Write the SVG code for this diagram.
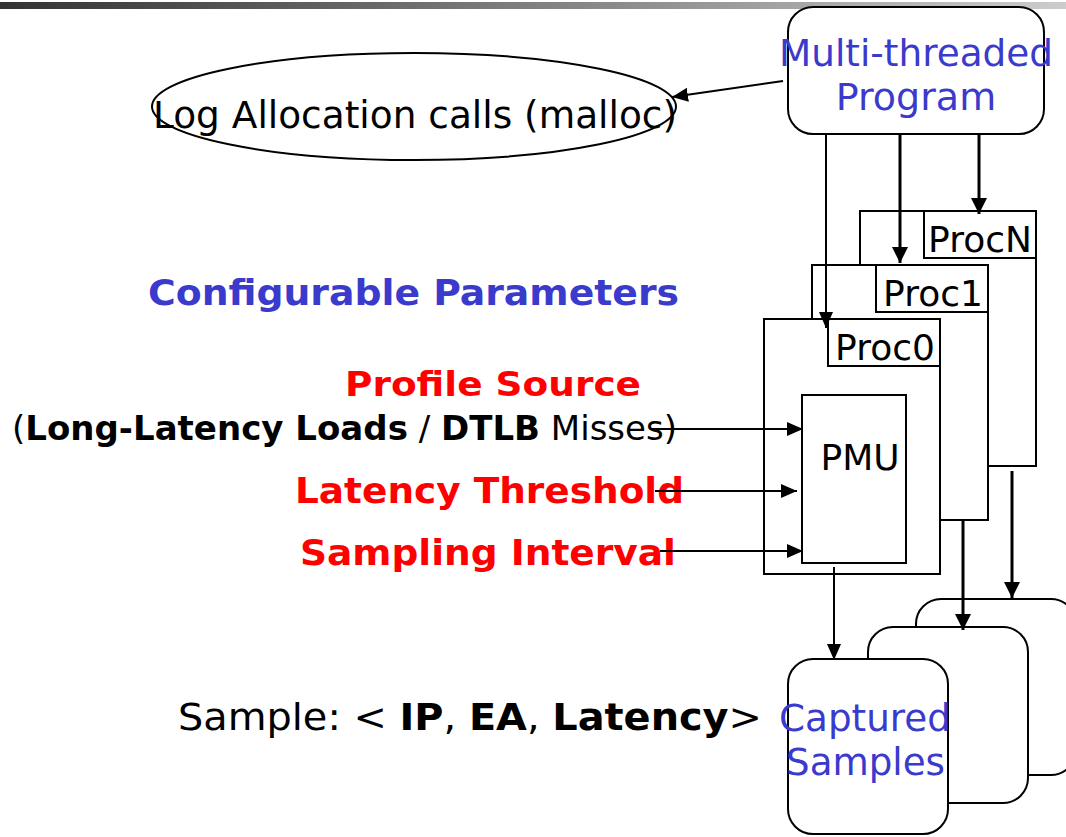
<svg xmlns="http://www.w3.org/2000/svg" width="1066" height="837" viewBox="0 0 1066 837">
  <defs>
    <linearGradient id="barFade" x1="0" y1="0" x2="1" y2="0">
      <stop offset="0" stop-color="#333333"/>
      <stop offset="1" stop-color="#cccccc"/>
    </linearGradient>
    <marker id="head" viewBox="0 0 16 14" refX="16" refY="7" markerWidth="16" markerHeight="14" markerUnits="userSpaceOnUse" orient="auto">
      <path d="M0,0 L16,7 L0,14 z" fill="#000"/>
    </marker>
    <marker id="headBig" viewBox="0 0 16 16" refX="16" refY="8" markerWidth="16" markerHeight="16" markerUnits="userSpaceOnUse" orient="auto">
      <path d="M0,0 L16,8 L0,16 z" fill="#000"/>
    </marker>
  </defs>
  <style>
    text { font-family: "DejaVu Sans", "Liberation Sans", sans-serif; }
    .box { fill: #fff; stroke: #000; stroke-width: 2; }
    .lbl { font-size: 36px; fill: #000; }
    .blue { fill: #3a3acc; }
    .red { fill: #ff0000; font-weight: bold; }
    .b { font-weight: bold; }
    .wire { stroke: #000; stroke-width: 2; fill: none; marker-end: url(#head); }
    .thick { stroke-width: 3; marker-end: url(#headBig); }
  </style>

  <rect x="0" y="2" width="1066" height="7" fill="url(#barFade)"/>

  <!-- Parameter labels -->
  <g id="params">
    <text x="148" y="305" font-size="36" font-weight="bold" class="blue" textLength="531" lengthAdjust="spacingAndGlyphs">Configurable Parameters</text>
    <text x="345" y="396" font-size="34" class="red" textLength="296" lengthAdjust="spacingAndGlyphs">Profile Source</text>
    <text x="12" y="440" font-size="33" textLength="665" lengthAdjust="spacingAndGlyphs">(<tspan class="b">Long-Latency Loads</tspan> / <tspan class="b">DTLB</tspan> Misses)</text>
    <text x="295" y="503" font-size="36" class="red" textLength="389" lengthAdjust="spacingAndGlyphs">Latency Threshold</text>
    <text x="300" y="565" font-size="36" class="red" textLength="376" lengthAdjust="spacingAndGlyphs">Sampling Interval</text>
  </g>

  <g id="sample-format">
    <text x="178" y="730" font-size="38" textLength="584" lengthAdjust="spacingAndGlyphs">Sample: &lt; <tspan class="b">IP</tspan>, <tspan class="b">EA</tspan>, <tspan class="b">Latency</tspan>&gt;</text>
  </g>

  <!-- Allocation log -->
  <g id="log-alloc">
    <ellipse cx="414" cy="106.5" rx="262" ry="53.5" fill="none" stroke="#000" stroke-width="2"/>
    <text x="153" y="128" font-size="37" textLength="524" lengthAdjust="spacingAndGlyphs">Log Allocation calls (malloc)</text>
  </g>

  <!-- Program -->
  <g id="program">
    <rect class="box" x="788" y="7" width="256" height="127" rx="25"/>
    <text x="779" y="66" font-size="38" class="blue" textLength="274" lengthAdjust="spacingAndGlyphs">Multi-threaded</text>
    <text x="916" y="110" font-size="38" class="blue" text-anchor="middle">Program</text>
  </g>

  <!-- Processors, back to front -->
  <g id="procN">
    <rect class="box" x="860" y="211" width="176" height="255"/>
    <rect class="box" x="924" y="211" width="112" height="47"/>
    <text class="lbl" x="980" y="252" text-anchor="middle">ProcN</text>
  </g>
  <g id="proc1">
    <rect class="box" x="812" y="265" width="176" height="255"/>
    <rect class="box" x="876" y="265" width="112" height="47"/>
    <text class="lbl" x="933" y="306" text-anchor="middle">Proc1</text>
  </g>
  <g id="proc0">
    <rect class="box" x="764" y="319" width="176" height="255"/>
    <rect class="box" x="828" y="319" width="112" height="47"/>
    <text class="lbl" x="885" y="360" text-anchor="middle">Proc0</text>
  </g>
  <g id="pmu">
    <rect class="box" x="802" y="395" width="104" height="168"/>
    <text class="lbl" x="860" y="470" text-anchor="middle">PMU</text>
  </g>

  <!-- Sample buffers, back to front -->
  <g id="samples-n">
    <rect class="box" x="916" y="599" width="160" height="176" rx="25"/>
  </g>
  <g id="samples-1">
    <rect class="box" x="868" y="627" width="160" height="176" rx="25"/>
  </g>
  <g id="samples-0">
    <rect class="box" x="788" y="659" width="160" height="175" rx="25"/>
    <text x="779" y="731" font-size="37" class="blue" textLength="172" lengthAdjust="spacingAndGlyphs">Captured</text>
    <text x="786" y="775" font-size="37" class="blue" textLength="159" lengthAdjust="spacingAndGlyphs">Samples</text>
  </g>

  <!-- Connectors -->
  <g id="connectors">
    <line class="wire" x1="783" y1="81" x2="672" y2="97"/>
    <line class="wire" x1="826" y1="134" x2="826" y2="328"/>
    <line class="wire thick" x1="900" y1="134" x2="900" y2="263"/>
    <line class="wire thick" x1="979" y1="134" x2="979" y2="214"/>
    <line class="wire" x1="652" y1="429" x2="803" y2="429"/>
    <line class="wire" x1="655" y1="491" x2="797" y2="491"/>
    <line class="wire" x1="660" y1="551" x2="803" y2="551"/>
    <line class="wire" x1="834" y1="567" x2="834" y2="660"/>
    <line class="wire thick" x1="963" y1="519" x2="963" y2="630"/>
    <line class="wire thick" x1="1012" y1="471" x2="1012" y2="598"/>
  </g>
</svg>
